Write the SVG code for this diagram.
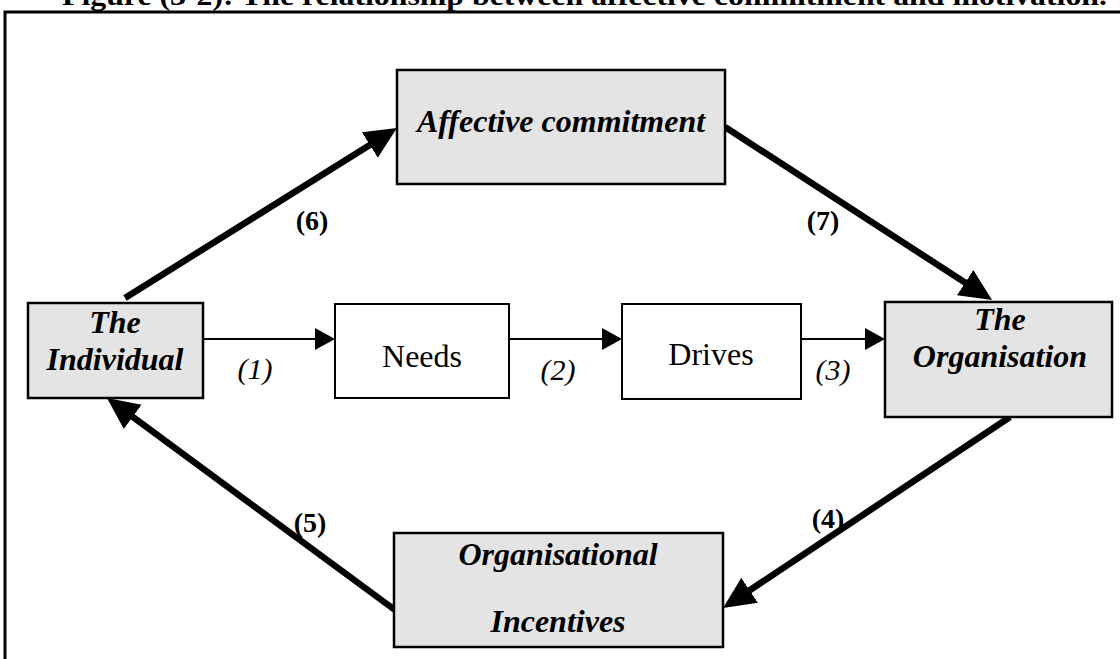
<svg xmlns="http://www.w3.org/2000/svg" width="1120" height="659" viewBox="0 0 1120 659">
  <style>
    .title { font-family: "Liberation Serif", "Times New Roman", serif; font-weight: bold; font-size: 28px; fill: #000; }
    .frame { fill: none; stroke: #000; stroke-width: 3; }
    .shaded { fill: #e4e4e4; stroke: #000; stroke-width: 2.5; }
    .plain { fill: #fff; stroke: #000; stroke-width: 2; }
    .bi { font-family: "Liberation Serif", "Times New Roman", serif; font-weight: bold; font-style: italic; font-size: 32px; fill: #000; text-anchor: middle; }
    .reg { font-family: "Liberation Serif", "Times New Roman", serif; font-size: 32px; fill: #000; text-anchor: middle; }
    .it { font-family: "Liberation Serif", "Times New Roman", serif; font-style: italic; font-size: 30px; fill: #000; text-anchor: middle; }
    .bnum { font-family: "Liberation Serif", "Times New Roman", serif; font-weight: bold; font-size: 28px; fill: #000; text-anchor: middle; }
    .thick { fill: none; stroke: #000; stroke-width: 6.5; marker-end: url(#bigHead); }
    .thin { fill: none; stroke: #000; stroke-width: 2; marker-end: url(#smallHead); }
  </style>
  <defs>
    <marker id="bigHead" markerUnits="userSpaceOnUse" markerWidth="34" markerHeight="32" refX="8" refY="15" orient="auto">
      <path d="M0,0 L32,15 L0,30 z" fill="#000"/>
    </marker>
    <marker id="smallHead" markerUnits="userSpaceOnUse" markerWidth="22" markerHeight="24" refX="6" refY="11" orient="auto">
      <path d="M0,0 L20,11 L0,22 z" fill="#000"/>
    </marker>
  </defs>

  <rect width="1120" height="659" fill="#fff"/>

  <!-- caption, clipped by the top edge of the page -->
  <text class="title" x="62" y="5" textLength="1045" lengthAdjust="spacingAndGlyphs">Figure (3-2): The relationship between affective commitment and motivation.</text>

  <!-- figure frame -->
  <path class="frame" d="M5,659 V12 H1120"/>

  <!-- connectors -->
  <g id="connectors">
    <line class="thick" x1="125" y1="298" x2="376.6" y2="140.7"/>
    <line class="thick" x1="725" y1="127" x2="971.9" y2="287"/>
    <line class="thick" x1="1010" y1="417" x2="743" y2="594.7"/>
    <line class="thick" x1="395" y1="610" x2="126.3" y2="412.2"/>
    <line class="thin" x1="203" y1="339" x2="321" y2="339"/>
    <line class="thin" x1="510" y1="339" x2="608" y2="339"/>
    <line class="thin" x1="801" y1="339" x2="871" y2="339"/>
    <text class="it" x="255" y="379">(1)</text>
    <text class="it" x="558" y="380">(2)</text>
    <text class="it" x="833" y="380">(3)</text>
    <text class="bnum" x="828" y="528">(4)</text>
    <text class="bnum" x="310" y="532">(5)</text>
    <text class="bnum" x="312" y="230">(6)</text>
    <text class="bnum" x="823" y="230">(7)</text>
  </g>

  <g id="individual">
    <rect class="shaded" x="28" y="303" width="175" height="95"/>
    <text class="bi" x="115" y="333">The</text>
    <text class="bi" x="115" y="370">Individual</text>
  </g>

  <g id="affective">
    <rect class="shaded" x="397" y="70" width="328" height="114"/>
    <text class="bi" x="561" y="132">Affective commitment</text>
  </g>

  <g id="organisation">
    <rect class="shaded" x="885" y="302" width="227" height="115"/>
    <text class="bi" x="1000" y="330">The</text>
    <text class="bi" x="1000" y="367">Organisation</text>
  </g>

  <g id="needs">
    <rect class="plain" x="335" y="304" width="174" height="94"/>
    <text class="reg" x="422" y="367">Needs</text>
  </g>

  <g id="drives">
    <rect class="plain" x="622" y="304" width="179" height="95"/>
    <text class="reg" x="711" y="365">Drives</text>
  </g>

  <g id="incentives">
    <rect class="shaded" x="394" y="533" width="329" height="114"/>
    <text class="bi" x="558" y="565">Organisational</text>
    <text class="bi" x="558" y="632">Incentives</text>
  </g>
</svg>
